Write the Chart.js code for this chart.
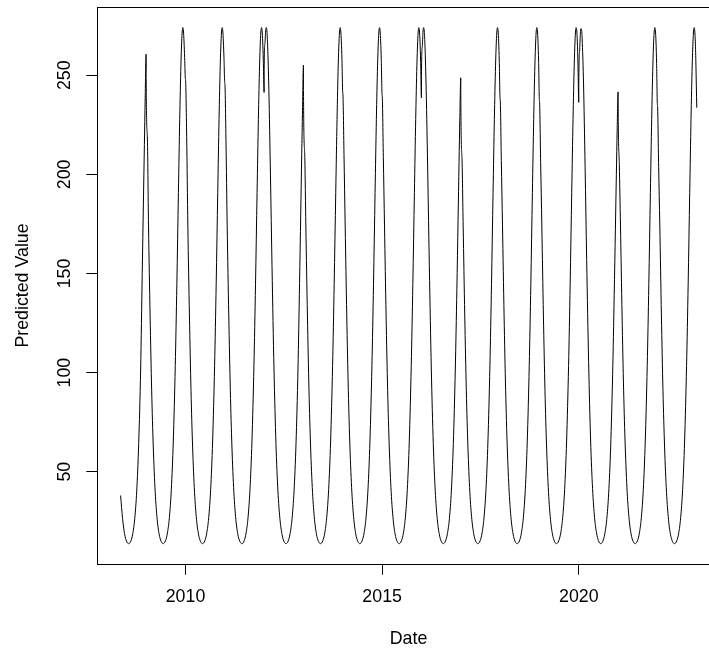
<!DOCTYPE html>
<html>
<head>
<meta charset="utf-8">
<script src="https://cdn.jsdelivr.net/npm/chart.js@4.4.1/dist/chart.umd.min.js"></script>
<style>
  html, body { margin: 0; padding: 0; background: #fff; overflow: hidden; }
  canvas { display: block; }
</style>
</head>
<body>
<canvas id="chart" width="722" height="650"></canvas>
<script>
// position inside each year (fraction of the year) where values were read
const normalFrac = [0, 0.03, 0.06, 0.10, 0.14, 0.18, 0.23, 0.28, 0.33, 0.38, 0.433, 0.49, 0.54, 0.59, 0.64, 0.69, 0.74, 0.78, 0.82, 0.853, 0.883, 0.903, 0.918, 0.933, 0.948, 0.963, 0.978, 0.999];
const leapFrac = [0, 0.02, 0.04, 0.055, 0.07, 0.09, 0.12, 0.16, 0.2, 0.25, 0.3, 0.35, 0.4, 0.45, 0.5, 0.555, 0.61, 0.66, 0.71, 0.76, 0.81, 0.86, 0.9, 0.93, 0.955, 0.975, 0.999];

const years = [2008, 2009, 2010, 2011, 2012, 2013, 2014, 2015, 2016, 2017, 2018, 2019, 2020, 2021, 2022];
const leapYears = [2008, 2012, 2016, 2020];

// predicted values, one array per year
const v2008 = [null, null, null, null, null, null, null, null, null, null, null, 38, 26.4, 18.8, 15.0, 13.7, 15.0, 18.8, 26.4, 40.3, 64.2, 101.8, 150, 186, 215, 238, 260.6];
const v2009 = [248, 219, 174, 129, 91, 63, 39.6, 26, 18.5, 14.9, 13.7, 15.1, 19, 26.8, 41.1, 65.5, 103.5, 144.3, 190.8, 227.7, 254.7, 266.8, 272.3, 274, 272.3, 266.8, 259, 248];
const v2010 = [248, 219, 174, 129, 91, 63, 39.6, 26, 18.5, 14.9, 13.7, 15.1, 19, 26.8, 41.1, 65.5, 103.5, 144.3, 190.8, 227.7, 254.7, 266.8, 272.3, 274, 272.3, 266.8, 259, 246];
const v2011 = [246, 216, 174, 129, 91, 63, 39.6, 26, 18.5, 14.9, 13.7, 15.1, 19, 26.8, 41.1, 65.5, 103.5, 144.3, 190.8, 227.7, 254.7, 266.8, 272.3, 274, 272.3, 266.8, 258, 241.3];
const v2012 = [253, 266, 273, 274, 272.3, 264.3, 242.2, 200.1, 153.4, 101.8, 64.2, 40.3, 26.4, 18.8, 15.0, 13.7, 15.0, 18.8, 26.4, 40.3, 64.2, 101.8, 145, 180, 210, 232, 255.1];
const v2013 = [242, 211, 174, 129, 91, 63, 39.6, 26, 18.5, 14.9, 13.7, 15.1, 19, 26.8, 41.1, 65.5, 103.5, 144.3, 190.8, 227.7, 254.7, 266.8, 272.3, 274, 272.3, 266.8, 258, 241];
const v2014 = [241, 210, 174, 129, 91, 63, 39.6, 26, 18.5, 14.9, 13.7, 15.1, 19, 26.8, 41.1, 65.5, 103.5, 144.3, 190.8, 227.7, 254.7, 266.8, 272.3, 274, 272.3, 266.8, 258, 240];
const v2015 = [240, 209, 174, 129, 91, 63, 39.6, 26, 18.5, 14.9, 13.7, 15.1, 19, 26.8, 41.1, 65.5, 103.5, 144.3, 190.8, 227.7, 254.7, 266.8, 272.3, 274, 272.3, 266.8, 257, 238.6];
const v2016 = [250, 264.3, 272.3, 274, 272.3, 264.3, 242.2, 200.1, 153.4, 101.8, 64.2, 40.3, 26.4, 18.8, 15.0, 13.7, 15.0, 18.8, 26.4, 40.3, 64.2, 101.8, 142.2, 176.7, 206, 228, 248.7];
const v2017 = [239, 208, 174, 129, 91, 63, 39.6, 26, 18.5, 14.9, 13.7, 15.1, 19, 26.8, 41.1, 65.5, 103.5, 144.3, 190.8, 227.7, 254.7, 266.8, 272.3, 274, 272.3, 266.8, 257, 238];
const v2018 = [238, 207, 174, 129, 91, 63, 39.6, 26, 18.5, 14.9, 13.7, 15.1, 19, 26.8, 41.1, 65.5, 103.5, 144.3, 190.8, 227.7, 254.7, 266.8, 272.3, 274, 272.3, 266.8, 257, 237];
const v2019 = [237, 206, 174, 129, 91, 63, 39.6, 26, 18.5, 14.9, 13.7, 15.1, 19, 26.8, 41.1, 65.5, 103.5, 144.3, 190.8, 227.7, 254.7, 266.8, 272.3, 274, 272.3, 266.8, 256, 236.3];
const v2020 = [246, 262, 271, 273.5, 273, 266, 246, 204, 157, 105, 66, 41.5, 27, 19.2, 15.2, 13.7, 14.9, 18.5, 25.8, 39.3, 62.5, 99, 139, 172, 200, 222, 241.6];
const v2021 = [236, 205, 174, 129, 91, 63, 39.6, 26, 18.5, 14.9, 13.7, 15.1, 19, 26.8, 41.1, 65.5, 103.5, 144.3, 190.8, 227.7, 254.7, 266.8, 272.3, 274, 272.3, 266.8, 256, 235];
const v2022 = [235, 204, 174, 129, 91, 63, 39.6, 26, 18.5, 14.9, 13.7, 15.1, 19, 26.8, 41.1, 65.5, 103.5, 144.3, 190.8, 227.7, 254.7, 266.8, 272.3, 274, 272.3, 266.8, 255, 233.6];

const yearValues = [v2008, v2009, v2010, v2011, v2012, v2013, v2014, v2015, v2016, v2017, v2018, v2019, v2020, v2021, v2022];

const xTicks = [2010, 2015, 2020];
const yTicks = [50, 100, 150, 200, 250];

const points = [];
years.forEach(function (yr, i) {
    const frac = leapYears.includes(yr) ? leapFrac : normalFrac;
    yearValues[i].forEach(function (v, j) {
        if (v !== null) {
            points.push({ x: yr + frac[j], y: v });
        }
    });
});

const font = { family: '"Liberation Sans", Arial, sans-serif', size: 17.8 };

// R style box around the plotting region
const boxPlugin = {
    id: 'box',
    afterDraw: function (chart) {
        const a = chart.chartArea;
        const c = chart.ctx;
        c.save();
        c.strokeStyle = '#000';
        c.lineWidth = 1;
        c.strokeRect(Math.round(a.left) + 0.5, Math.round(a.top) + 0.5, Math.round(a.right - a.left), Math.round(a.bottom - a.top));
        c.restore();
    }
};

const ctx = document.getElementById('chart').getContext('2d');
new Chart(ctx, {
    type: 'line',
    data: {
        datasets: [{
            data: points,
            borderColor: '#000',
            borderWidth: 1,
            pointRadius: 0,
            fill: false,
            cubicInterpolationMode: 'monotone'
        }]
    },
    options: {
        responsive: false,
        animation: false,
        events: [],
        layout: { padding: { top: 7, right: 2, left: 0, bottom: 0 } },
        plugins: {
            legend: { display: false },
            tooltip: { enabled: false }
        },
        scales: {
            x: {
                type: 'linear',
                min: 2007.75,
                max: 2023.59,
                afterBuildTicks: function (scale) {
                    scale.ticks = xTicks.map(function (v) { return { value: v }; });
                },
                afterFit: function (scale) {
                    scale.height = 86;
                    scale.paddingLeft = 0;
                    scale.paddingRight = 0;
                },
                grid: { drawOnChartArea: false, drawTicks: true, tickLength: 10.7, color: '#000' },
                border: { display: false },
                ticks: {
                    color: '#000',
                    font: font,
                    padding: 11.7,
                    maxRotation: 0,
                    callback: function (v) { return String(v); }
                },
                title: { display: true, text: 'Date', color: '#000', font: font, padding: { top: 0, bottom: 0 } }
            },
            y: {
                min: 3.45,
                max: 284.4,
                afterBuildTicks: function (scale) {
                    scale.ticks = yTicks.map(function (v) { return { value: v }; });
                },
                afterFit: function (scale) {
                    scale.width = 97;
                    scale.paddingTop = 0;
                    scale.paddingBottom = 0;
                },
                grid: { drawOnChartArea: false, drawTicks: true, tickLength: 10.7, color: '#000' },
                border: { display: false },
                ticks: {
                    color: '#000',
                    font: font,
                    padding: 6.2,
                    minRotation: 90,
                    maxRotation: 90,
                    crossAlign: 'center',
                    callback: function (v) { return String(v); }
                },
                title: { display: true, text: 'Predicted Value', color: '#000', font: font, padding: { top: 12, bottom: 0 } }
            }
        }
    },
    plugins: [boxPlugin]
});
</script>
</body>
</html>
